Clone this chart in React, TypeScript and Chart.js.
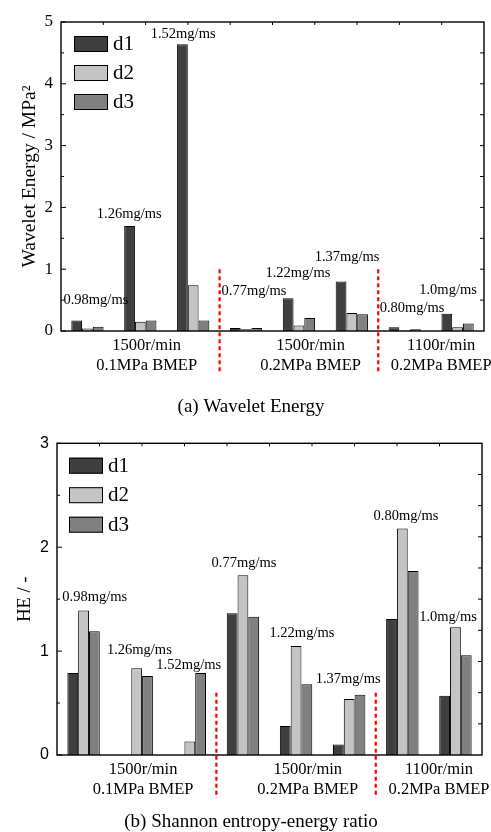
import React, { useEffect, useRef } from 'react';
import { Chart, registerables } from 'chart.js';

Chart.register(...registerables);

// ---------- data ----------
const fuelRates = ['0.98mg/ms', '1.26mg/ms', '1.52mg/ms', '0.77mg/ms', '1.22mg/ms', '1.37mg/ms', '0.80mg/ms', '1.0mg/ms'];
const seriesNames = ['d1', 'd2', 'd3'];

const energyD1 = [0.17, 1.70, 4.64, 0.05, 0.53, 0.80, 0.06, 0.28];
const energyD2 = [0.04, 0.15, 0.74, 0.03, 0.09, 0.29, 0.01, 0.06];
const energyD3 = [0.07, 0.17, 0.17, 0.05, 0.21, 0.27, 0.03, 0.12];

const heD1 = [0.79, 0, 0, 1.365, 0.28, 0.10, 1.31, 0.57];
const heD2 = [1.39, 0.835, 0.13, 1.73, 1.05, 0.54, 2.18, 1.23];
const heD3 = [1.19, 0.76, 0.79, 1.33, 0.68, 0.58, 1.77, 0.96];

const conditionLabels = [
  ['1500r/min', '0.1MPa BMEP'],
  ['1500r/min', '0.2MPa BMEP'],
  ['1100r/min', '0.2MPa BMEP'],
];
const conditionCenters = [1.12, 4.22, 6.69];
const separators = [2.5, 5.5];

// annotation anchors (category index, value)
const energyNoteX = [0.16, 0.79, 1.81, 3.15, 3.98, 4.91, 6.14, 6.82];
const energyNoteY = [0.50, 1.89, 4.81, 0.65, 0.94, 1.20, 0.37, 0.66];
const heNoteX = [0.21, 1.05, 1.98, 3.02, 4.11, 4.98, 6.07, 6.86];
const heNoteY = [1.52, 1.01, 0.86, 1.85, 1.17, 0.73, 2.30, 1.33];

const energyTicksMax = 5;
const heTicksMax = 3;

// ---------- styles ----------
const SERIF = 'Liberation Serif';
const SANS = 'Liberation Sans';
const barColors = ['#3f3f3f', '#c4c4c4', '#808080'];

type PanelCfg = {
  yTitle: string;
  yTitleSize: number;
  yTitleX: number;
  caption: string;
  captionY: number;
  noteX: number[];
  noteY: number[];
  sepTop: number;
  yMax: number;
  rightStep: number;
  legendDx: number;
  legendDy: number;
  legendGap: number;
};

function makeDecor(cfg: PanelCfg) {
  return {
    id: 'decor',
    afterDatasetsDraw(chart: any) {
      const { ctx, chartArea: a, scales } = chart;
      const xs = scales.x;
      const ys = scales.y;
      ctx.save();
      ctx.strokeStyle = '#000';
      // ticks
      ctx.lineWidth = 1;
      const seg = (x1: number, y1: number, x2: number, y2: number) => {
        ctx.beginPath();
        ctx.moveTo(x1, y1);
        ctx.lineTo(x2, y2);
        ctx.stroke();
      };
      for (let i = 0; i <= cfg.yMax * 2; i++) {
        const v = i / 2;
        const py = ys.getPixelForValue(v);
        seg(a.left, py, a.left + (i % 2 === 0 ? 5 : 3), py);
      }
      const nRight = Math.round(cfg.yMax / cfg.rightStep);
      for (let i = 1; i < nRight; i++) {
        const py = ys.getPixelForValue(i * cfg.rightStep);
        seg(a.right - 4, py, a.right, py);
      }
      for (let k = 1; k < 10; k++) {
        const px = a.left + (k * (a.right - a.left)) / 10;
        seg(px, a.top, px, a.top + 3);
      }
      // frame
      ctx.lineWidth = 1.4;
      ctx.strokeRect(a.left, a.top, a.right - a.left, a.bottom - a.top);

      // separators
      ctx.strokeStyle = '#ff0000';
      ctx.lineWidth = 2.2;
      ctx.setLineDash([4, 3]);
      separators.forEach((s) => {
        const px = xs.getPixelForValue(s);
        seg(px, ys.getPixelForValue(cfg.sepTop), px, a.bottom + 43);
      });
      ctx.setLineDash([]);

      // notes
      ctx.fillStyle = '#000';
      ctx.textAlign = 'center';
      ctx.textBaseline = 'middle';
      ctx.font = `14.5px "${SERIF}"`;
      fuelRates.forEach((t, i) => {
        ctx.fillText(t, xs.getPixelForValue(cfg.noteX[i]), ys.getPixelForValue(cfg.noteY[i]));
      });

      // condition labels
      ctx.font = `16.5px "${SERIF}"`;
      conditionLabels.forEach((lines, i) => {
        const px = xs.getPixelForValue(conditionCenters[i]);
        ctx.fillText(lines[0], px, a.bottom + 15);
        ctx.fillText(lines[1], px, a.bottom + 35);
      });

      // caption
      ctx.font = `19px "${SERIF}"`;
      ctx.fillText(cfg.caption, 251, cfg.captionY);

      // y title
      ctx.save();
      ctx.translate(cfg.yTitleX, (a.top + a.bottom) / 2);
      ctx.rotate(-Math.PI / 2);
      ctx.font = `${cfg.yTitleSize}px "${SERIF}"`;
      ctx.fillText(cfg.yTitle, 0, 0);
      ctx.restore();

      // legend
      ctx.textAlign = 'left';
      ctx.font = `21px "${SERIF}"`;
      chart.data.datasets.forEach((ds: any, i: number) => {
        const bx = a.left + cfg.legendDx;
        const by = a.top + cfg.legendDy + i * cfg.legendGap;
        ctx.fillStyle = ds.backgroundColor;
        ctx.fillRect(bx, by, 34, 16);
        ctx.strokeStyle = '#000';
        ctx.lineWidth = 1;
        ctx.strokeRect(bx + 0.5, by + 0.5, 33, 15);
        ctx.fillStyle = '#000';
        ctx.fillText(ds.label, bx + 39, by + 8.5);
      });
      ctx.restore();
    },
  };
}

function buildChart(
  canvas: HTMLCanvasElement,
  series: number[][],
  yMax: number,
  tickFont: { family: string; size: number },
  dims: { top: number; right: number; yW: number; xH: number },
  cfg: PanelCfg
) {
  return new Chart(canvas, {
    type: 'bar',
    data: {
      labels: fuelRates,
      datasets: series.map((d, i) => ({
        label: seriesNames[i],
        data: d,
        backgroundColor: barColors[i],
        borderColor: '#000',
        borderWidth: 1,
        categoryPercentage: 0.61,
        barPercentage: 1,
      })),
    },
    options: {
      responsive: false,
      animation: false,
      devicePixelRatio: 1,
      layout: { padding: { top: dims.top, right: dims.right, left: 0, bottom: 0 } },
      plugins: { legend: { display: false }, tooltip: { enabled: false } },
      scales: {
        x: {
          type: 'category',
          offset: true,
          grid: { display: false, drawTicks: false },
          border: { display: false },
          ticks: { display: false },
          afterFit: (s: any) => {
            s.height = dims.xH;
          },
        },
        y: {
          min: 0,
          max: yMax,
          grid: { display: false, drawTicks: false },
          border: { display: false },
          ticks: { stepSize: 1, color: '#000', padding: 8, font: tickFont },
          afterFit: (s: any) => {
            s.width = dims.yW;
          },
        },
      },
    },
    plugins: [makeDecor(cfg)],
  } as any);
}

export default function App() {
  const topRef = useRef<HTMLCanvasElement>(null);
  const botRef = useRef<HTMLCanvasElement>(null);

  useEffect(() => {
    const c1 = buildChart(
      topRef.current!,
      [energyD1, energyD2, energyD3],
      energyTicksMax,
      { family: SERIF, size: 17 },
      { top: 22, right: 7, yW: 61, xH: 94 },
      {
        yTitle: 'Wavelet Energy / MPa²',
        yTitleSize: 19.5,
        yTitleX: 30,
        caption: '(a) Wavelet Energy',
        captionY: 407,
        noteX: energyNoteX,
        noteY: energyNoteY,
        sepTop: 1.0,
        yMax: energyTicksMax,
        rightStep: 0.5,
        legendDx: 13,
        legendDy: 14,
        legendGap: 29,
      }
    );
    const c2 = buildChart(
      botRef.current!,
      [heD1, heD2, heD3],
      heTicksMax,
      { family: SANS, size: 16 },
      { top: 18.3, right: 9, yW: 57, xH: 77 },
      {
        yTitle: 'HE / -',
        yTitleSize: 18.5,
        yTitleX: 25,
        caption: '(b) Shannon entropy-energy ratio',
        captionY: 397,
        noteX: heNoteX,
        noteY: heNoteY,
        sepTop: 0.6,
        yMax: heTicksMax,
        rightStep: 0.3,
        legendDx: 12,
        legendDy: 14.4,
        legendGap: 29.5,
      }
    );
    return () => {
      c1.destroy();
      c2.destroy();
    };
  }, []);

  return (
    <div style={{ position: 'absolute', left: 0, top: 0, width: 491, height: 832, background: '#fff' }}>
      <canvas ref={topRef} width={491} height={425} style={{ display: 'block' }} />
      <canvas ref={botRef} width={491} height={407} style={{ display: 'block' }} />
    </div>
  );
}
